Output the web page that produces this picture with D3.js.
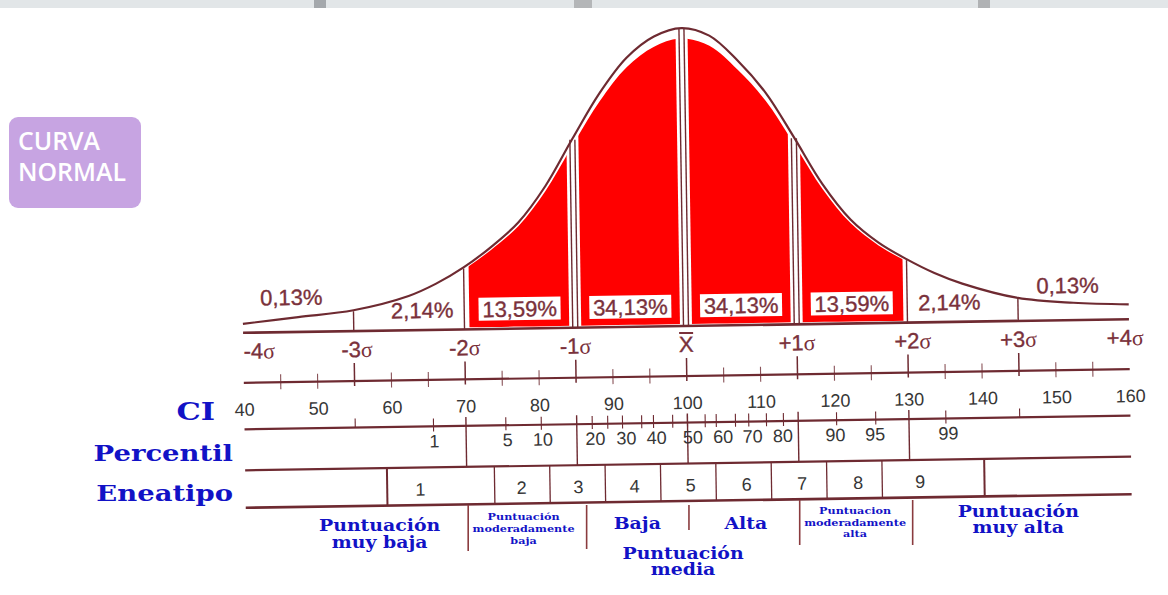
<!DOCTYPE html>
<html><head><meta charset="utf-8">
<script src="https://cdn.jsdelivr.net/npm/d3@7"></script>
<style>html,body{margin:0;padding:0;background:#fff;overflow:hidden}svg{display:block}</style>
</head><body><svg id="c" width="1168" height="595"></svg>
<script>
// ---------------- DATA ----------------
const curveZ = [-4,-3.5,-3,-2.5,-2.25,-2,-1.75,-1.5,-1.25,-1,-0.75,-0.5,-0.25,0,0.25,0.5,0.75,1,1.25,1.5,1.75,2,2.25,2.5,3,3.5,4];
const curveHeight = [3.0,5.0,7.0,11.5,15.5,20.8,27.5,35.6,47.7,63.4,78.5,90.3,97.3,100,97.3,88.9,77.9,62.8,47.0,34.9,27.0,21.3,16.5,12.8,7.7,5.8,5.0];
const sigmaValues = [-4,-3,-2,-1,0,1,2,3,4];
const sigmaLabels = ["-4","-3","-2","-1","X","+1","+2","+3","+4"];
const areaIntervals = [[-4,-3],[-3,-2],[-2,-1],[-1,0],[0,1],[1,2],[2,3],[3,4]];
const areaLabels = ["0,13%","2,14%","13,59%","34,13%","34,13%","13,59%","2,14%","0,13%"];
const redIntervals = [[-2,-1],[-1,0],[0,1],[1,2]];
const ciLabels = [40,50,60,70,80,90,100,110,120,130,140,150,160];
const ciMinorTicks = [45,50,55,60,65,70,75,80,85,90,95,100,105,110,115,120,125,130,135,140,145,150,155];
const ciSigmaTicks = [55,70,85,100,115,130,145];
const percentileTickCI = [65.6,75.4,80.2,87.1,89.2,91.2,93.8,95.4,98.0,100,102.4,103.9,106.5,108.3,110.7,113,120.2,125.5,135.0];
const percentileLabels = ["1","5","10","20","30","40","50","60","70","80","90","95","99"];
const percentileLabelCI = [65.7,75.6,80.4,87.5,91.7,95.8,100.7,104.8,108.8,112.9,120,125.4,135.3];
const eneatipoBounds = [59.2,73.75,81.25,88.75,96.25,103.75,111.25,118.75,126.25,140.1];
const eneatipoLabels = ["1","2","3","4","5","6","7","8","9"];
const eneatipoLabelCI = [63.7,77.4,85.1,92.7,100.3,107.9,115.4,123,131.4];
const rowNames = ["CI","Percentil","Eneatipo"];
const bandNames = [["Puntuación","muy baja"],["Puntuación","moderadamente","baja"],["Baja"],["Alta"],["Puntuación","media"],["Puntuacion","moderadamente","alta"],["Puntuación","muy alta"]];
const bandCenterCI = [58.5,78,93.4,108.1,99.6,122.9,145];
const bandDividerCI = [70.5,86,100.4,115.4,130.7];

// ---------------- SETUP ----------------
const svg = d3.select("#c");
const maroon = "#6e2a31", textMaroon = "#7a313b", blue = "#1212c6", gray = "#363636";
const x = d3.scaleLinear().domain([40,160]).range([243,1129]);
const BASE = 326;
const y = d3.scaleLinear().domain([0,100]).range([BASE,28]);
const ci = z => 100 + 15*z;
const pts = curveZ.map((z,i)=>({ci:ci(z), h:curveHeight[i]}));
const hAt = z => curveHeight[curveZ.indexOf(z)];
const defs = svg.append("defs");
const smooth = d3.curveCatmullRom.alpha(0.5);

// background strip at top
svg.append("rect").attr("x",0).attr("y",0).attr("width",1168).attr("height",8).attr("fill","#e2e6e8");
[[314,12,"#a4a8ac"],[574,18,"#b4b6b8"],[978,12,"#b0b2b4"],[1280,12,"#a8aaac"]].forEach(d=>{
  svg.append("rect").attr("x",d[0]).attr("y",0).attr("width",d[1]).attr("height",8).attr("fill",d[2]);
});

// badge
svg.append("rect").attr("x",9).attr("y",117).attr("width",132).attr("height",91).attr("rx",9).attr("fill","#c7a4e2");
svg.append("text").attr("x",18).attr("y",150).attr("font-family","Open Sans").attr("font-weight",600).attr("font-size",25).attr("fill","#fff").attr("textLength",82).attr("lengthAdjust","spacingAndGlyphs").text("CURVA");
svg.append("text").attr("x",18).attr("y",181).attr("font-family","Open Sans").attr("font-weight",600).attr("font-size",25).attr("fill","#fff").attr("textLength",108).attr("lengthAdjust","spacingAndGlyphs").text("NORMAL");

// ---------------- ROTATED CHART ----------------
const g = svg.append("g").attr("transform","rotate(-0.88,686,326)");

// red areas
const redArea = d3.area().x(d=>x(d.ci)).y0(BASE-2).y1(d=>y(d.h*0.965)).curve(smooth);
redIntervals.forEach((iv,i)=>{
  const gl = iv[0]===-2 ? 5 : 6, gr = iv[1]===2 ? 4 : 6;
  const x0 = x(ci(iv[0]))+gl, x1 = x(ci(iv[1]))-gr;
  defs.append("clipPath").attr("id","rc"+i).append("rect").attr("x",x0).attr("y",0).attr("width",x1-x0).attr("height",400);
  g.append("path").datum(pts).attr("d",redArea).attr("fill","#ff0000").attr("clip-path","url(#rc"+i+")");
});

// curve
const line = d3.line().x(d=>x(d.ci)).y(d=>y(d.h)).curve(smooth);
g.append("path").datum(pts).attr("d",line).attr("fill","none").attr("stroke",maroon).attr("stroke-width",2.2);

// baseline
g.append("line").attr("x1",x(40)).attr("x2",x(160)).attr("y1",BASE).attr("y2",BASE).attr("stroke",maroon).attr("stroke-width",2.6);

// sigma separators
[-3,-2,-1,0,1,2,3].forEach(z=>{
  const offs = Math.abs(z)<=1 ? [-2.5,2.5] : [0];
  offs.forEach(o=>{
    g.append("line").attr("x1",x(ci(z))+o).attr("x2",x(ci(z))+o)
     .attr("y1",BASE).attr("y2",y(hAt(z))+1).attr("stroke",maroon).attr("stroke-width",1.4);
  });
});

// area labels
areaLabels.forEach((lab,i)=>{
  const iv = areaIntervals[i];
  let zc = (iv[0]+iv[1])/2;
  const boxed = Math.abs(zc) < 2;
  if (Math.abs(zc)===2.5) zc -= Math.sign(zc)*0.12;
  if (Math.abs(zc)===3.5) zc += (zc<0 ? -0.06 : -0.05);
  const cx = x(ci(zc));
  let by;
  if (boxed) {
    g.append("rect").attr("x",cx-41).attr("y",306-11.5).attr("width",82).attr("height",23).attr("fill","#fff");
    by = 314;
  } else by = Math.abs(zc) > 3 ? 299 : 314;
  g.append("text").attr("x",cx).attr("y",by).attr("text-anchor","middle")
   .attr("font-family","Liberation Sans, Arial").attr("font-size",22).attr("fill",textMaroon)
   .attr("stroke",textMaroon).attr("stroke-width",0.35).text(lab);
});

// sigma labels
sigmaValues.forEach((s,i)=>{
  let cx = x(ci(s));
  if (s===-4) cx += 16;
  if (s===4) cx -= 4;
  if (s===2) cx += 5;
  if (s===-3) cx += 3;
  const t = g.append("text").attr("x",cx).attr("y",352).attr("text-anchor","middle")
    .attr("font-family","Liberation Sans, Arial").attr("font-size",22).attr("fill",textMaroon)
    .attr("stroke",textMaroon).attr("stroke-width",0.35);
  t.append("tspan").text(sigmaLabels[i]);
  if (s!==0) t.append("tspan").attr("font-family","Liberation Serif, serif").attr("font-size",22).attr("stroke-width",0).text("σ");
  else g.append("line").attr("x1",cx-7).attr("x2",cx+7).attr("y1",333).attr("y2",333).attr("stroke",textMaroon).attr("stroke-width",2);
});

// tick row
const TR = 376;
g.append("line").attr("x1",x(40)).attr("x2",x(160)).attr("y1",TR).attr("y2",TR).attr("stroke",maroon).attr("stroke-width",2.2);
ciMinorTicks.forEach(v=>{
  const long = ciSigmaTicks.includes(v);
  g.append("line").attr("x1",x(v)).attr("x2",x(v)).attr("y1",TR-(long?18:8)).attr("y2",TR+(long?5:7))
   .attr("stroke",maroon).attr("stroke-width",long?1.5:1.1).attr("opacity",long?1:0.8);
});

// CI labels via axis
const ciAxis = d3.axisBottom(x).tickValues(ciLabels).tickSize(0).tickPadding(0).tickFormat(d3.format("d"));
const ga = g.append("g").attr("transform","translate(0,395)").call(ciAxis);
ga.select(".domain").remove();
ga.selectAll("text").attr("font-family","Liberation Sans, Arial").attr("font-size",18).attr("fill",gray).attr("dy",0).attr("y",14);

// CI line
const CL = 422.5;
g.append("line").attr("x1",x(40)).attr("x2",x(160)).attr("y1",CL).attr("y2",CL).attr("stroke",maroon).attr("stroke-width",2.2);
[55,145].forEach(v=>g.append("line").attr("x1",x(v)).attr("x2",x(v)).attr("y1",CL-9).attr("y2",CL).attr("stroke",maroon).attr("stroke-width",1.1));

// percentile row
const PB = 463.5;
percentileTickCI.forEach(v=>{
  g.append("line").attr("x1",x(v)).attr("x2",x(v)).attr("y1",CL-8).attr("y2",CL+5).attr("stroke",maroon).attr("stroke-width",1.1);
});
[70,85,100,115,130].forEach(v=>{
  g.append("line").attr("x1",x(v)).attr("x2",x(v)).attr("y1",CL-9).attr("y2",PB).attr("stroke",maroon).attr("stroke-width",1.4);
});
percentileLabels.forEach((lab,i)=>{
  g.append("text").attr("x",x(percentileLabelCI[i])).attr("y",443.5).attr("text-anchor","middle")
   .attr("font-family","Liberation Sans, Arial").attr("font-size",18).attr("fill",gray).text(lab);
});
g.append("line").attr("x1",x(40)).attr("x2",x(160)).attr("y1",PB).attr("y2",PB).attr("stroke",maroon).attr("stroke-width",2.2);

// eneatipo row
const EB = 501;
eneatipoBounds.forEach((v,i)=>{
  const edge = i===0 || i===eneatipoBounds.length-1;
  g.append("line").attr("x1",x(v)).attr("x2",x(v)).attr("y1",PB).attr("y2",EB).attr("stroke",maroon).attr("stroke-width",edge?2:1.3);
});
eneatipoLabels.forEach((lab,i)=>{
  g.append("text").attr("x",x(eneatipoLabelCI[i])).attr("y",491.5).attr("text-anchor","middle")
   .attr("font-family","Liberation Sans, Arial").attr("font-size",18).attr("fill",gray).text(lab);
});
g.append("line").attr("x1",x(40)).attr("x2",x(160)).attr("y1",EB).attr("y2",EB).attr("stroke",maroon).attr("stroke-width",2.6);

// ---------------- OVERLAY (not rotated) ----------------
const rowY = [420,461,501], rowX = [215,233,233], rowFs = [25,22.5,22.5];
rowNames.forEach((n,i)=>{
  svg.append("text").attr("transform",`translate(${rowX[i]},${rowY[i]}) scale(1.22,1)`).attr("text-anchor","end")
   .attr("font-family","DejaVu Serif").attr("font-weight","bold").attr("font-size",rowFs[i]).attr("fill",blue).text(n);
});

// band dividers
const divTop = [505,505,505,500,500], divBot = [551,549,530,545,545];
bandDividerCI.forEach((v,i)=>{
  const xx = x(v) + (i===1?4:0);
  svg.append("line").attr("x1",xx).attr("x2",xx).attr("y1",divTop[i]).attr("y2",divBot[i]).attr("stroke","#8a3b3e").attr("stroke-width",1.6);
});

defs.append("clipPath").attr("id","clipAlta").append("rect").attr("x",790).attr("y",490).attr("width",121).attr("height",60);
const bandBaselines = [[531,548],[520,532,544],[529],[529],[559,575],[514,525.5,537],[517,533]];
bandNames.forEach((lines,i)=>{
  const small = lines.length===3;
  const cx = x(bandCenterCI[i]);
  const gg = svg.append("g");
  if (i===5) gg.attr("clip-path","url(#clipAlta)");
  lines.forEach((t,j)=>{
    gg.append("text").attr("transform",`translate(${cx},${bandBaselines[i][j]}) scale(1.18,1)`).attr("text-anchor","middle")
      .attr("font-family","DejaVu Serif").attr("font-weight","bold").attr("font-size",small?9.5:16).attr("fill",blue).text(t);
  });
});
</script>
</body></html>
